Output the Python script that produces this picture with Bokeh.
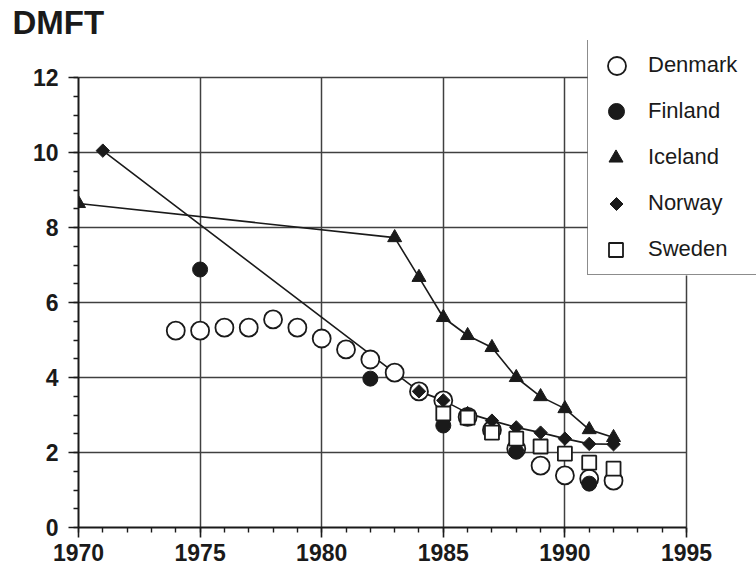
import math
from bokeh.plotting import figure
from bokeh.models import Legend, LegendItem, FixedTicker, Grid
from bokeh.embed import file_html
from bokeh.resources import INLINE

# ---- data ----
den_years = [1974, 1975, 1976, 1977, 1978, 1979, 1980, 1981, 1982, 1983, 1984, 1985,
             1986, 1987, 1988, 1989, 1990, 1991, 1992]
den_vals = [5.25, 5.25, 5.33, 5.33, 5.55, 5.33, 5.04, 4.75, 4.48, 4.13, 3.63, 3.39,
            2.95, 2.6, 2.1, 1.65, 1.39, 1.3, 1.25]

fin_years = [1975, 1982, 1985, 1988, 1991]
fin_vals = [6.88, 3.97, 2.72, 2.02, 1.17]

ice_years = [1970, 1983, 1984, 1985, 1986, 1987, 1988, 1989, 1990, 1991, 1992]
ice_vals = [8.64, 7.73, 6.67, 5.6, 5.12, 4.8, 4.0, 3.49, 3.17, 2.61, 2.4]

nor_years = [1971, 1984, 1985, 1986, 1987, 1988, 1989, 1990, 1991, 1992]
nor_vals = [10.05, 3.63, 3.39, 3.05, 2.85, 2.67, 2.53, 2.37, 2.23, 2.22]

swe_years = [1985, 1986, 1987, 1988, 1989, 1990, 1991, 1992]
swe_vals = [3.04, 2.93, 2.53, 2.37, 2.16, 1.97, 1.73, 1.57]

countries = ["Denmark", "Finland", "Iceland", "Norway", "Sweden"]
x_ticks = [1970, 1975, 1980, 1985, 1990, 1995]
y_ticks = [0, 2, 4, 6, 8, 10, 12]
y_title = "DMFT"

INK = "#1a1a1a"
FONT = "Liberation Sans"

X0, X1 = x_ticks[0], x_ticks[-1]
Y0, Y1 = y_ticks[0], y_ticks[-1]

# layout (pixels)
W, H = 756, 572
FRAME_L, FRAME_B_PAGE = 78, 527
PX_PER_YEAR, PX_PER_UNIT = 24.32, 37.5
FRAME_T = 40
x_end = X0 + (W - FRAME_L) / PX_PER_YEAR
y_end = (FRAME_B_PAGE - FRAME_T) / PX_PER_UNIT

# frame spans to the right and top canvas edges so the legend is not clipped;
# axes and grid are bounded to the data area.
p = figure(width=W, height=H, x_range=(X0, x_end), y_range=(Y0, y_end),
           output_backend="svg", toolbar_location=None,
           min_border_left=FRAME_L, min_border_right=0, min_border_top=FRAME_T,
           min_border_bottom=H - FRAME_B_PAGE)

p.background_fill_color = "white"
p.border_fill_color = "white"
p.outline_line_color = None

p.title.text = y_title
p.title.align = "left"
p.title.offset = 12 - FRAME_L
p.title.standoff = 0
p.title.text_font = FONT
p.title.text_font_style = "bold"
p.title.text_font_size = "33px"
p.title.text_color = INK

for ax in (p.xaxis[0], p.yaxis[0]):
    ax.axis_line_color = INK
    ax.axis_line_width = 2
    ax.major_tick_line_color = INK
    ax.minor_tick_line_color = INK
    ax.major_tick_line_width = 1.6
    ax.minor_tick_line_width = 1.4
    ax.major_tick_in = 0
    ax.minor_tick_in = 0
    ax.major_tick_out = 10
    ax.minor_tick_out = 5
    ax.major_label_text_font = FONT
    ax.major_label_text_font_style = "bold"
    ax.major_label_text_font_size = "23px"
    ax.major_label_text_color = INK

p.xaxis[0].bounds = (X0, X1)
p.yaxis[0].bounds = (Y0, Y1)
p.xaxis[0].ticker = FixedTicker(ticks=x_ticks, minor_ticks=list(range(X0, X1 + 1)))
p.yaxis[0].ticker = FixedTicker(ticks=y_ticks, minor_ticks=[i * 0.5 for i in range(2 * Y1 + 1)])
p.xaxis[0].major_label_standoff = 6
p.yaxis[0].major_label_standoff = 10

GRID_COLOR = "#404040"
if "cross_bounds" in Grid.properties():
    p.xgrid[0].ticker = FixedTicker(ticks=x_ticks)
    p.ygrid[0].ticker = FixedTicker(ticks=y_ticks)
    p.xgrid[0].bounds = (X0, X1)
    p.ygrid[0].bounds = (Y0, Y1)
    p.xgrid[0].cross_bounds = (Y0, Y1)
    p.ygrid[0].cross_bounds = (X0, X1)
    for g in (p.xgrid[0], p.ygrid[0]):
        g.grid_line_color = GRID_COLOR
        g.grid_line_width = 1.5
else:
    p.xgrid[0].visible = False
    p.ygrid[0].visible = False
    p.segment(x0=x_ticks[1:], y0=[Y0] * (len(x_ticks) - 1), x1=x_ticks[1:], y1=[Y1] * (len(x_ticks) - 1),
              line_color=GRID_COLOR, line_width=1.5)
    p.segment(x0=[X0] * (len(y_ticks) - 1), y0=y_ticks[1:], x1=[X1] * (len(y_ticks) - 1), y1=y_ticks[1:],
              line_color=GRID_COLOR, line_width=1.5)

# connecting lines
p.line(ice_years, ice_vals, line_color=INK, line_width=1.6)
p.line(nor_years, nor_vals, line_color=INK, line_width=1.6)

NOR_MARK = dict(marker="square", angle=math.pi / 4, fill_color=INK, line_color=INK)

r_den = p.scatter(den_years, den_vals, marker="circle", size=18, fill_color="white",
                  line_color=INK, line_width=1.8)
r_fin = p.scatter(fin_years, fin_vals, marker="circle", size=15, fill_color=INK,
                  line_color=INK)
r_ice = p.scatter(ice_years, ice_vals, marker="triangle", size=14, fill_color=INK,
                  line_color=INK)
r_nor = p.scatter(nor_years, nor_vals, size=9.5, **NOR_MARK)
r_swe = p.scatter(swe_years, swe_vals, marker="square", size=14, fill_color="white",
                  line_color=INK, line_width=1.8)

# ---- legend geometry ----
LEG_X, LEG_BOTTOM_PAGE = 587, 275
ITEM_H, ITEM_GAP, LEG_PAD, GLYPH_W = 45, 1, 3, 52
n = len(countries)
leg_h = 2 * LEG_PAD + n * ITEM_H + (n - 1) * ITEM_GAP
leg_left_up = LEG_X - FRAME_L
leg_bottom_up = FRAME_B_PAGE - LEG_BOTTOM_PAGE
leg_top_up = leg_bottom_up + leg_h
glyph_cx = leg_left_up + LEG_PAD + GLYPH_W / 2

# white legend background (a glyph, so the rotated diamond key can sit on top of it)
p.quad(left=[X0 + leg_left_up / PX_PER_YEAR], right=[x_end + 1],
       bottom=[leg_bottom_up / PX_PER_UNIT], top=[y_end + 1],
       fill_color="white", line_color=None)

# legend: border + labels (transparent), glyph keys drawn separately
proxy = p.scatter(x=[], y=[], size=0, fill_alpha=0, line_alpha=0)
legend = Legend(items=[LegendItem(label=c, renderers=[proxy]) for c in countries],
                location=(leg_left_up, leg_bottom_up))
legend.glyph_width = GLYPH_W
legend.glyph_height = ITEM_H
legend.spacing = ITEM_GAP
legend.padding = LEG_PAD
legend.margin = 0
legend.label_standoff = 5
legend.label_width = 115
legend.label_text_font = FONT
legend.label_text_font_size = "22px"
legend.label_text_color = INK
legend.border_line_color = INK
legend.border_line_width = 1.6
legend.background_fill_alpha = 0
p.add_layout(legend, "center")

glyph_px = [18, 16, 14, 13, 14]  # legend marker sizes
for i, (r, s) in enumerate(zip([r_den, r_fin, r_ice, r_nor, r_swe], glyph_px)):
    cy = leg_top_up - LEG_PAD - ITEM_H / 2 - i * (ITEM_H + ITEM_GAP)
    if r is r_nor:
        # legend glyphs are never rotated, so the diamond key is a rotated square glyph
        p.scatter(x=[X0 + glyph_cx / PX_PER_YEAR], y=[cy / PX_PER_UNIT],
                  size=s / math.sqrt(2), **NOR_MARK)
        continue
    g = int(round(s / 0.4))
    gl = Legend(items=[LegendItem(label=" ", renderers=[r])],
                location=(int(round(glyph_cx - g / 2)), int(round(cy - g / 2))))
    gl.glyph_width = g
    gl.glyph_height = g
    gl.padding = 0
    gl.margin = 0
    gl.spacing = 0
    gl.label_standoff = 0
    gl.label_width = 0
    gl.label_height = 0
    gl.label_text_font_size = "1px"
    gl.border_line_color = None
    gl.background_fill_alpha = 0
    p.add_layout(gl, "center")

open("out.html", "w").write(file_html(p, INLINE))
